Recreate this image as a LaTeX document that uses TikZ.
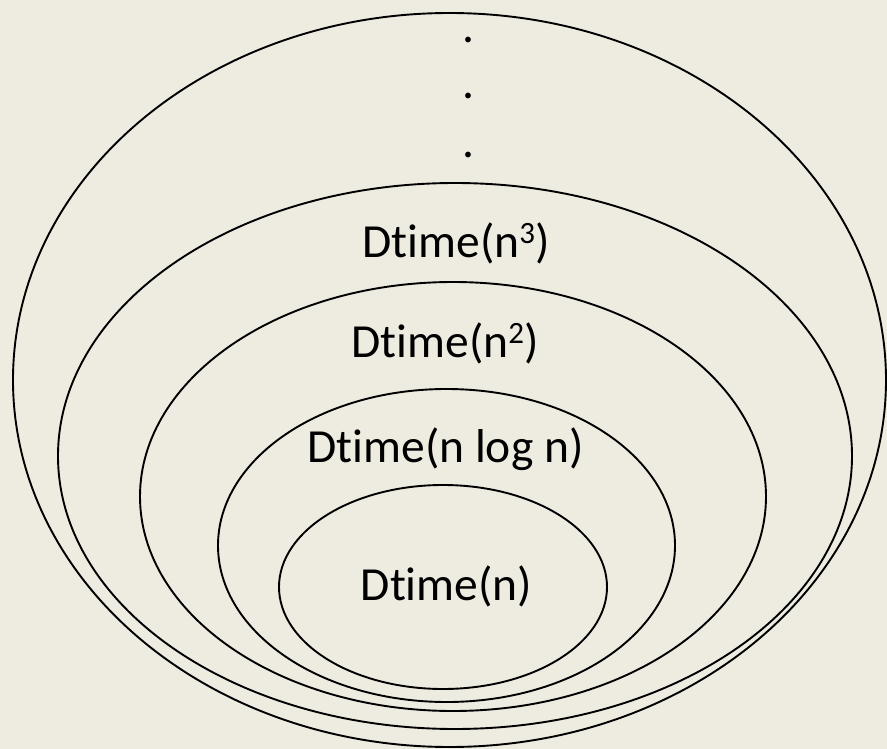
\documentclass[tikz,border=0pt]{standalone}
\usepackage{fontspec}
\setmainfont[Ligatures=NoCommon, RawFeature={-liga;-clig;-dlig;-calt}]{Carlito}
\usetikzlibrary{shapes.geometric}
\definecolor{paper}{HTML}{EEECE1}
\newcommand{\supnum}[1]{{\fontsize{31}{33}\selectfont\raisebox{14pt}{#1}}}
% keeps t and i as separate glyphs
\newcommand{\Dtime}{Dt\kern0pt ime}
\tikzset{
  ring/.style={draw=black, line width=1.9pt, ellipse, inner sep=0pt, outer sep=0pt},
  lbl/.style={anchor=base, inner sep=0pt, font=\fontsize{47.5}{56}\selectfont, text=black},
}
\begin{document}
\begin{tikzpicture}[x=1pt, y=-1pt]
  \fill[paper] (0,0) rectangle (887,749);
  \useasboundingbox (0,0) rectangle (887,749);

  % nested classes, outermost first
  \node[ring, minimum width=873pt, minimum height=734pt] (all)   at (449.5,380) {};
  \node[ring, minimum width=794pt, minimum height=546pt] (cube)  at (455,456) {};
  \node[ring, minimum width=626pt, minimum height=429pt] (sq)    at (453,496.5) {};
  \node[ring, minimum width=457pt, minimum height=313pt] (nlogn) at (446.5,545.5) {};
  \node[ring, minimum width=328pt, minimum height=204pt] (lin)   at (443,587) {};

  % vertical ellipsis above the cubic class
  \node[lbl] (dot1) at (468,43) {.};
  \node[lbl] (dot2) at (468,99) {.};
  \node[lbl] (dot3) at (468,158) {.};

  % class labels
  \node[lbl] (tcube)  at (456,258)   {\Dtime(n\supnum{3})};
  \node[lbl] (tsq)    at (445,357)   {\Dtime(n\supnum{2})};
  \node[lbl] (tnlogn) at (445.5,462) {\Dtime(n log n)};
  \node[lbl] (tlin)   at (446.5,600) {\Dtime(n)};
\end{tikzpicture}
\end{document}
